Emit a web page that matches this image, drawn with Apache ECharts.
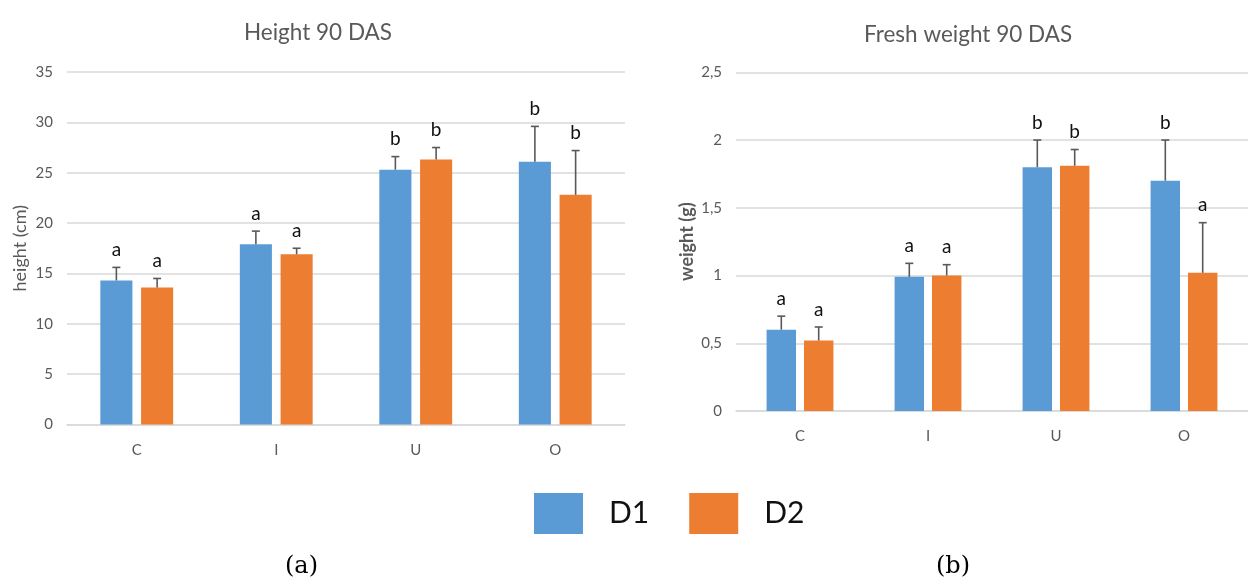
<!DOCTYPE html>
<html>
<head>
<meta charset="utf-8">
<script src="https://cdn.jsdelivr.net/npm/echarts@6/dist/echarts.min.js"></script>
<style>
  html, body { margin: 0; padding: 0; background: #ffffff; }
  #chart { width: 1248px; height: 584px; }
</style>
</head>
<body>
<div id="chart"></div>
<script>
// Treatments on the x axis
const categories = ['C', 'I', 'U', 'O'];

// Plant height at 90 DAS (cm)
const heightD1 = [14.3, 17.9, 25.3, 26.1];
const heightD2 = [13.6, 16.9, 26.3, 22.8];
const heightErrD1 = [1.3, 1.3, 1.3, 3.5];
const heightErrD2 = [0.9, 0.6, 1.2, 4.4];
const heightLettersD1 = ['a', 'a', 'b', 'b'];
const heightLettersD2 = ['a', 'a', 'b', 'b'];

// Fresh weight at 90 DAS (g)
const weightD1 = [0.60, 0.99, 1.80, 1.70];
const weightD2 = [0.52, 1.00, 1.81, 1.02];
const weightErrD1 = [0.10, 0.10, 0.20, 0.30];
const weightErrD2 = [0.10, 0.08, 0.12, 0.37];
const weightLettersD1 = ['a', 'a', 'b', 'b'];
const weightLettersD2 = ['a', 'a', 'b', 'a'];

const seriesNames = ['D1', 'D2'];
const blue = '#5B9BD5';
const orange = '#ED7D31';
const grey = '#595959';
const gridGrey = '#D9D9D9';
const font = 'Lato, "Noto Sans", sans-serif';

const BAR_W = 0.23;   // share of a category band
const BAR_GAP = 0.27; // share of a bar width

// Upper error bar with a significance letter above it
function errorSeries(gridIdx, values, errs, letters, side) {
  return {
    type: 'custom',
    xAxisIndex: gridIdx,
    yAxisIndex: gridIdx,
    z: 5,
    silent: true,
    data: values.map((v, i) => [i, v, errs[i]]),
    renderItem: function (params, api) {
      const i = api.value(0);
      const v = api.value(1);
      const e = api.value(2);
      const band = api.size([1, 0])[0];
      const off = side * band * BAR_W * (1 + BAR_GAP) / 2;
      const base = api.coord([i, v]);
      const top = api.coord([i, v + e]);
      const x = base[0] + off;
      return {
        type: 'group',
        children: [
          { type: 'line', shape: { x1: x, y1: base[1], x2: x, y2: top[1] },
            style: { stroke: grey, lineWidth: 1.6 } },
          { type: 'line', shape: { x1: x - 4, y1: top[1], x2: x + 4, y2: top[1] },
            style: { stroke: grey, lineWidth: 1.6 } },
          { type: 'text', x: x, y: top[1] - 8,
            style: { text: letters[params.dataIndex], fill: '#111111',
                     font: '19px ' + font, align: 'center', verticalAlign: 'bottom' } }
        ]
      };
    }
  };
}

function barSeries(gridIdx, name, values, color) {
  return {
    type: 'bar',
    name: name,
    xAxisIndex: gridIdx,
    yAxisIndex: gridIdx,
    data: values,
    barWidth: (BAR_W * 100) + '%',
    barGap: (BAR_GAP * 100) + '%',
    itemStyle: { color: color },
    silent: true
  };
}

function xAxis(gridIdx) {
  return {
    type: 'category',
    gridIndex: gridIdx,
    data: categories,
    axisLine: { lineStyle: { color: gridGrey, width: 1.5 } },
    axisTick: { show: false },
    axisLabel: { color: grey, fontSize: 15, fontFamily: font, margin: 18 }
  };
}

const chart = echarts.init(document.getElementById('chart'), null, { renderer: 'canvas' });

chart.setOption({
  animation: false,
  backgroundColor: '#ffffff',
  title: [
    { text: 'Height 90 DAS', left: 239, top: 16,
      textStyle: { color: grey, fontSize: 22.5, fontWeight: 'normal', fontFamily: font } },
    { text: 'Fresh weight 90 DAS', left: 859, top: 18,
      textStyle: { color: grey, fontSize: 22.5, fontWeight: 'normal', fontFamily: font } }
  ],
  legend: {
    data: seriesNames,
    left: 529,
    top: 488,
    itemWidth: 49,
    itemHeight: 41,
    itemGap: 40,
    icon: 'rect',
    textStyle: { fontSize: 30, color: '#111111', fontFamily: font, padding: [0, 0, 0, 21] },
    selectedMode: false
  },
  grid: [
    { left: 67, top: 72, width: 558, height: 352.5 },
    { left: 736, top: 72.3, width: 526, height: 338.7 }
  ],
  xAxis: [xAxis(0), xAxis(1)],
  yAxis: [
    {
      type: 'value', gridIndex: 0, min: 0, max: 35, interval: 5,
      name: 'height (cm)', nameLocation: 'middle', nameGap: 38,
      nameTextStyle: { color: grey, fontSize: 18, fontFamily: font },
      axisLine: { show: false }, axisTick: { show: false },
      axisLabel: { color: grey, fontSize: 15, fontFamily: font, margin: 14 },
      splitLine: { lineStyle: { color: gridGrey, width: 1.5 } }
    },
    {
      type: 'value', gridIndex: 1, min: 0, max: 2.5, interval: 0.5,
      name: 'weight (g)', nameLocation: 'middle', nameGap: 40,
      nameTextStyle: { color: grey, fontSize: 18, fontWeight: 'bold', fontFamily: font },
      axisLine: { show: false }, axisTick: { show: false },
      axisLabel: { color: grey, fontSize: 15, fontFamily: font, margin: 14,
                   formatter: v => String(v).replace('.', ',') },
      splitLine: { lineStyle: { color: gridGrey, width: 1.5 } }
    }
  ],
  graphic: [
    { type: 'text', left: 285, top: 555,
      style: { text: '(a)', fill: '#000000', font: '24px "DejaVu Serif", serif' } },
    { type: 'text', left: 936, top: 555,
      style: { text: '(b)', fill: '#000000', font: '24px "DejaVu Serif", serif' } }
  ],
  series: [
    barSeries(0, 'D1', heightD1, blue),
    barSeries(0, 'D2', heightD2, orange),
    errorSeries(0, heightD1, heightErrD1, heightLettersD1, -1),
    errorSeries(0, heightD2, heightErrD2, heightLettersD2, 1),
    barSeries(1, 'D1', weightD1, blue),
    barSeries(1, 'D2', weightD2, orange),
    errorSeries(1, weightD1, weightErrD1, weightLettersD1, -1),
    errorSeries(1, weightD2, weightErrD2, weightLettersD2, 1)
  ]
});
</script>
</body>
</html>
